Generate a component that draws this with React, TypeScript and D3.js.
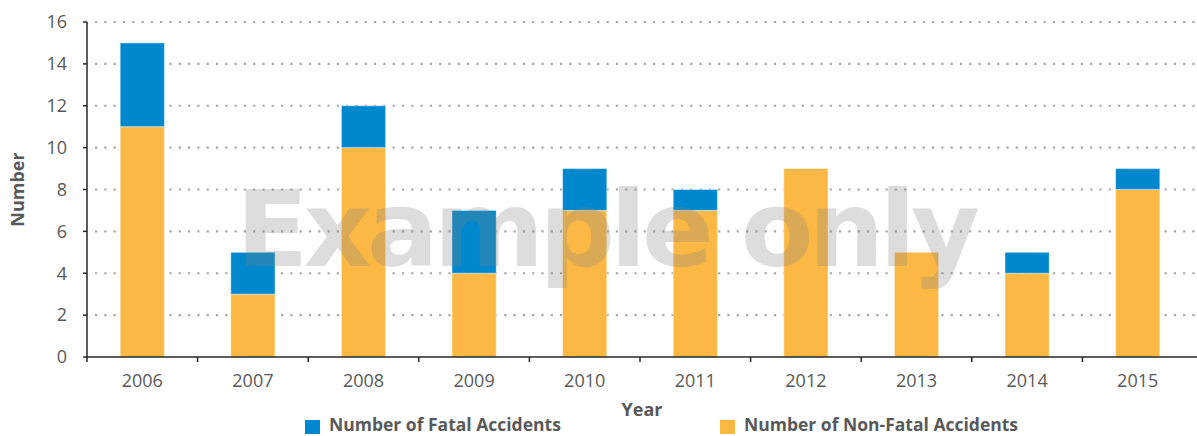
import { useMemo } from 'react'

import { scaleBand, scaleLinear, stack } from 'd3'

const years = ['2006', '2007', '2008', '2009', '2010', '2011', '2012', '2013', '2014', '2015']
const nonFatal = [11, 3, 10, 4, 7, 7, 9, 5, 4, 8]
const fatal = [4, 2, 2, 3, 2, 1, 0, 0, 1, 1]
const yTicks = [0, 2, 4, 6, 8, 10, 12, 14, 16]
const seriesNames = ['Number of Non-Fatal Accidents', 'Number of Fatal Accidents']
const seriesColors = ['#FBB845', '#0088CE']

const width = 1197
const height = 436
const margin = { top: 22, right: 4, bottom: 79, left: 87 }
const font = '"Open Sans", "Noto Sans", sans-serif'
const textColor = '#595959'

export default function App() {
  const x = useMemo(
    () =>
      scaleBand<string>()
        .domain(years)
        .range([margin.left, width - margin.right])
        .paddingInner(0.6)
        .paddingOuter(0.3),
    []
  )
  const y = useMemo(
    () =>
      scaleLinear()
        .domain([0, 16])
        .range([height - margin.bottom, margin.top]),
    []
  )
  const rows = years.map((year, i) => ({ year, nonFatal: nonFatal[i], fatal: fatal[i] }))
  const layers = stack<{ year: string; nonFatal: number; fatal: number }>().keys(['nonFatal', 'fatal'])(rows)
  const step = x.step()
  const y0 = y(0)

  return (
    <svg
      width={width}
      height={height}
      style={{ position: 'absolute', left: 0, top: 0, background: '#fff' }}
      fontFamily={font}
    >
      {/* grid */}
      {yTicks
        .filter(t => t > 0)
        .map(t => (
          <line
            key={t}
            x1={margin.left + 8}
            x2={width - 2}
            y1={y(t)}
            y2={y(t)}
            stroke="#a6a6a6"
            strokeWidth={2.2}
            strokeDasharray="2.2 7.1"
          />
        ))}

      {/* bars */}
      {layers.map((layer, li) => (
        <g key={layer.key} fill={seriesColors[li]}>
          {layer.map(d =>
            d[1] - d[0] > 0 ? (
              <rect
                key={d.data.year}
                x={x(d.data.year)}
                y={y(d[1])}
                width={x.bandwidth()}
                height={y(d[0]) - y(d[1])}
                stroke="#ffffff"
                strokeOpacity={0.45}
                strokeWidth={1}
              />
            ) : null
          )}
        </g>
      ))}

      {/* y axis */}
      <line x1={margin.left} x2={margin.left} y1={margin.top} y2={y0} stroke="#262626" strokeWidth={1.5} />
      {yTicks.map(t => (
        <g key={t} transform={`translate(0, ${y(t)})`}>
          <line x1={margin.left - 4} x2={margin.left} stroke="#262626" strokeWidth={1.5} />
          <text x={margin.left - 20} dy="0.35em" textAnchor="end" fontSize={18} fill={textColor}>
            {t}
          </text>
        </g>
      ))}

      {/* x axis */}
      <line x1={margin.left} x2={width} y1={y0} y2={y0} stroke="#262626" strokeWidth={1.5} />
      {years.map((year, i) => (
        <line
          key={year}
          x1={margin.left + i * step}
          x2={margin.left + i * step}
          y1={y0}
          y2={y0 + 5}
          stroke="#262626"
          strokeWidth={1.5}
        />
      ))}
      {years.map(year => (
        <text
          key={year}
          x={(x(year) ?? 0) + x.bandwidth() / 2}
          y={y0 + 30}
          textAnchor="middle"
          fontSize={18}
          fill={textColor}
        >
          {year}
        </text>
      ))}

      {/* axis titles */}
      <text x={642} y={416} textAnchor="middle" fontSize={18} fontWeight="bold" fill={textColor}>
        Year
      </text>
      <text
        transform={`translate(24, ${(margin.top + y0) / 2}) rotate(-90)`}
        textAnchor="middle"
        fontSize={18}
        fontWeight="bold"
        fill={textColor}
      >
        Number
      </text>

      {/* legend */}
      {[1, 0].map((si, i) => {
        const lx = i === 0 ? 305 : 720
        return (
          <g key={si}>
            <rect x={lx} y={420} width={15} height={14} fill={seriesColors[si]} />
            <text x={lx + 24} y={431} fontSize={17.5} fontWeight="bold" fill={textColor}>
              {seriesNames[si]}
            </text>
          </g>
        )
      })}

      {/* watermark */}
      <text
        x={236}
        y={266}
        fontSize={106}
        fontWeight="bold"
        fontFamily='"DejaVu Sans", sans-serif'
        textLength={744}
        lengthAdjust="spacing"
        fill="#808080"
        fillOpacity={0.27}
      >
        Example only
      </text>
    </svg>
  )
}
